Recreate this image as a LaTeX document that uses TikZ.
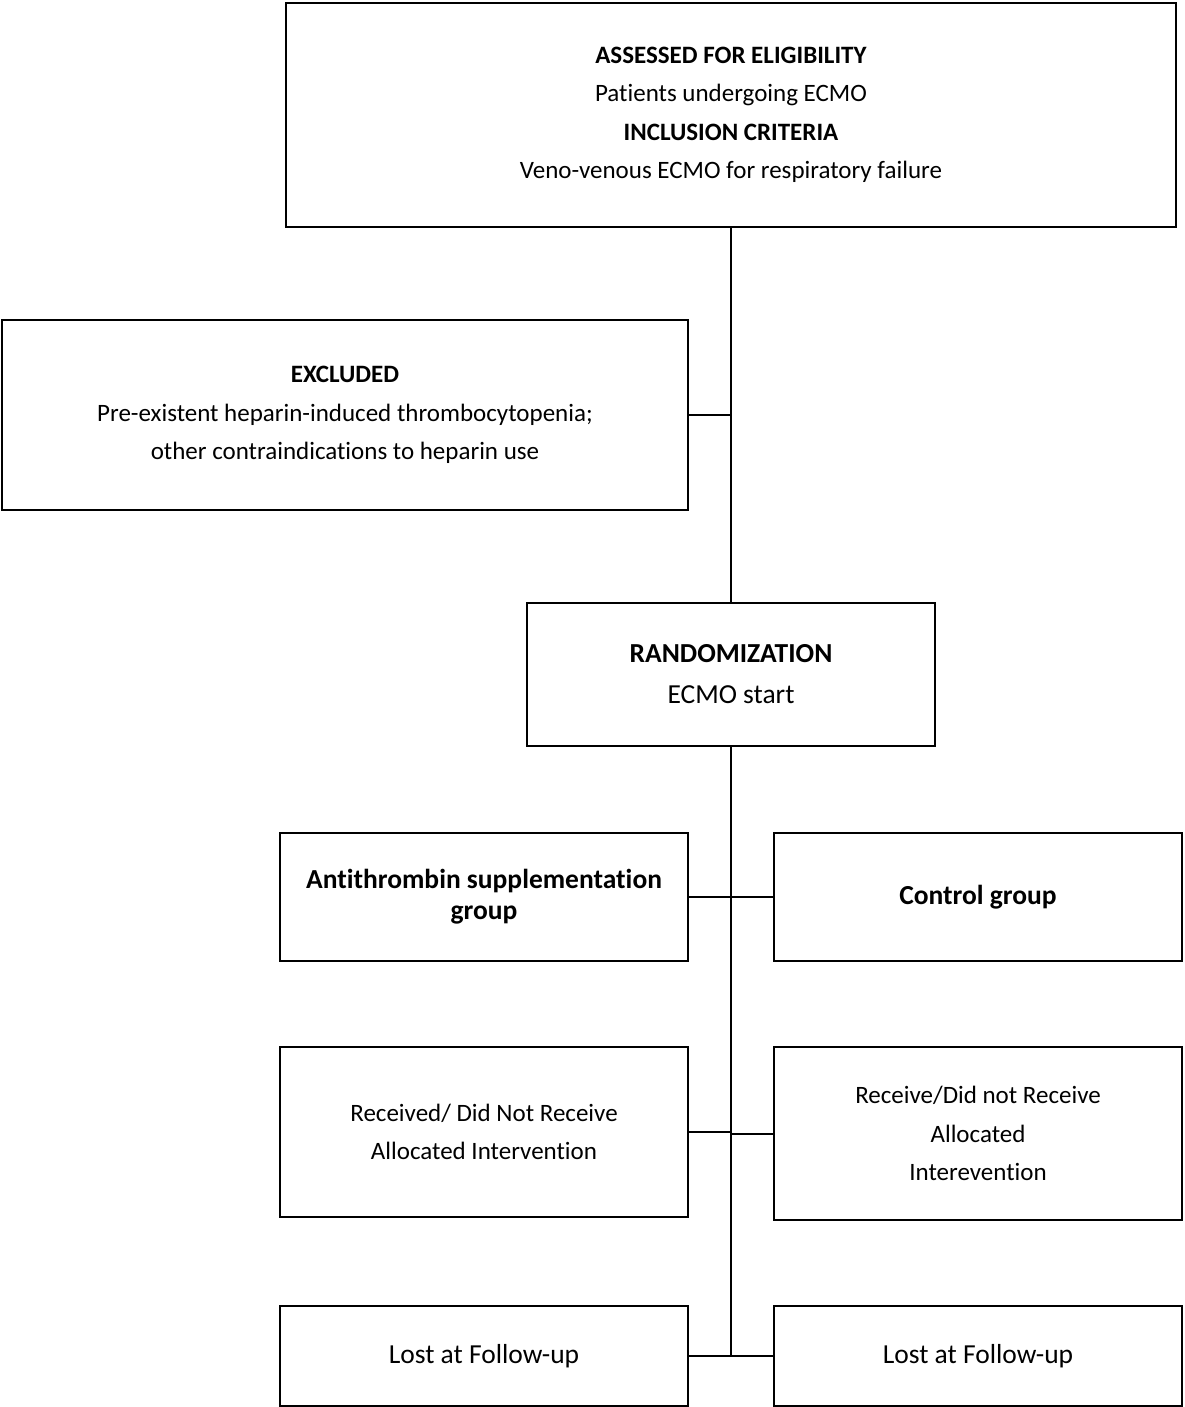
\documentclass[tikz,border=0pt]{standalone}
\usepackage{fontspec}
\setmainfont{Carlito}[RawFeature=-liga]
\begin{document}
\begin{tikzpicture}[x=1pt,y=-1pt,
  box/.style={draw=black,line width=2pt,rectangle,inner sep=0pt,align=center,
    font=\fontsize{25}{38.5}\selectfont},
  big/.style={font=\fontsize{27.5}{41}\selectfont},
  conn/.style={draw=black,line width=2pt}]
\useasboundingbox (0,0) rectangle (1184,1407);
\node[box,minimum width=890pt,minimum height=224pt] (top) at (731,115) {%
  \textbf{ASSESSED FOR ELIGIBILITY}\\Patients undergoing ECMO\\\textbf{INCLUSION CRITERIA}\\Veno-venous ECMO for respiratory failure};
\node[box,minimum width=686pt,minimum height=190pt] (excl) at (345,415) {%
  \textbf{EXCLUDED}\\Pre-existent heparin-induced thrombocytopenia;\\other contraindications to heparin use};
\node[box,big,minimum width=408pt,minimum height=143pt] (rand) at (731,674.5) {%
  \textbf{RANDOMIZATION}\\ECMO start};
\node[box,minimum width=408pt,minimum height=128pt,font=\fontsize{27.5}{31}\selectfont] (anti) at (484,897) {%
  \textbf{Antithrombin supplementation}\\\textbf{group}};
\node[box,big,minimum width=408pt,minimum height=128pt] (ctrl) at (978,897) {\textbf{Control group}};
\node[box,minimum width=408pt,minimum height=170pt] (recv) at (484,1132) {%
  Received/ Did Not Receive\\Allocated Intervention};
\node[box,minimum width=408pt,minimum height=173pt] (recv2) at (978,1133.5) {%
  Receive/Did not Receive\\Allocated\\Interevention};
\node[box,big,minimum width=408pt,minimum height=100pt] (lost1) at (484,1356) {Lost at Follow-up};
\node[box,big,minimum width=408pt,minimum height=100pt] (lost2) at (978,1356) {Lost at Follow-up};
\coordinate (bend) at (lost1.east -| rand.south);
\draw[conn] (top.south) -- (rand.north);
\draw[conn] (excl.east) -- (excl.east -| top.south);
\draw[conn] (rand.south) -- (bend);
\draw[conn] (anti.east) -- (ctrl.west);
\draw[conn] (recv.east) -- (recv.east -| rand.south);
\draw[conn] (recv2.west) -- (recv2.west -| rand.south);
\draw[conn] (lost1.east) -- (lost2.west);
\end{tikzpicture}
\end{document}
